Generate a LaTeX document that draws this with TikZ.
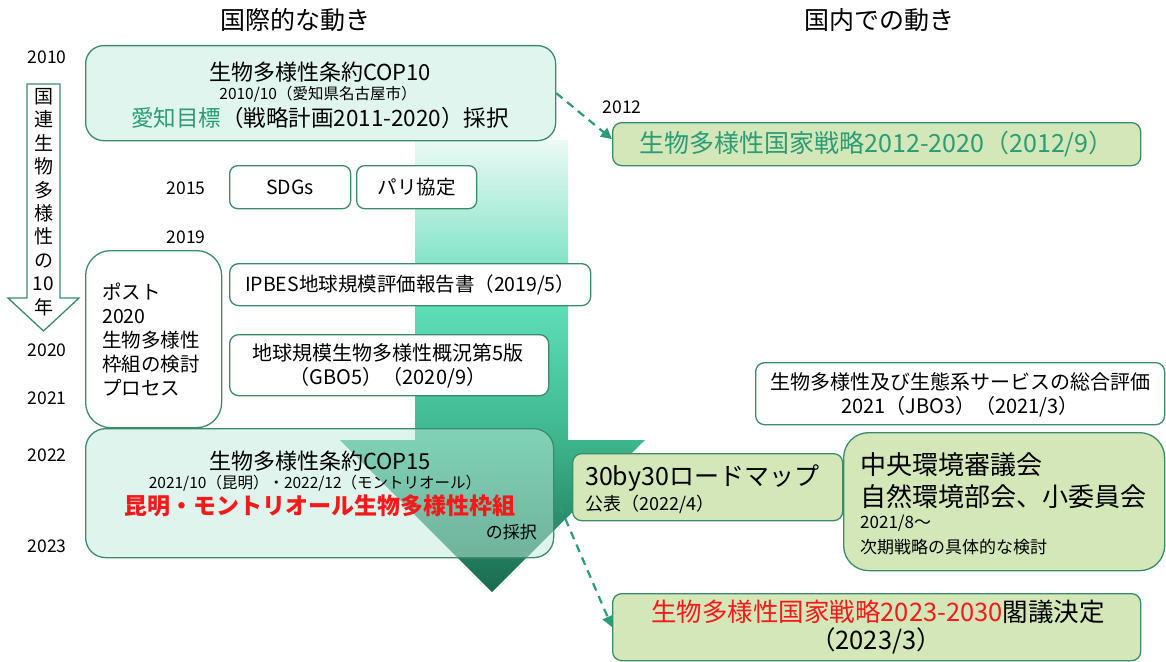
\documentclass[tikz,border=0pt]{standalone}
\usepackage{fontspec}
\setmainfont{Noto Sans CJK JP}
\usetikzlibrary{arrows.meta,calc}
\definecolor{bdr}{HTML}{3C8C6C}
\definecolor{mint}{HTML}{E0F5EE}
\definecolor{mintT}{HTML}{C1EBDD}
\definecolor{natfill}{HTML}{D4E7B9}
\definecolor{tealt}{HTML}{2A9C77}
\definecolor{redt}{HTML}{F51A1A}
\definecolor{alight}{HTML}{ECF9F5}
\definecolor{amid}{HTML}{5CDCB6}
\definecolor{amid2}{HTML}{3DB68E}
\definecolor{adark}{HTML}{1A6A4F}
\pgfdeclareverticalshading{bigarrow}{100bp}{color(0bp)=(adark); color(25bp)=(adark); color(42bp)=(amid2); color(56bp)=(amid); color(75bp)=(alight); color(100bp)=(alight)}
\newcommand\myfs[2]{\fontsize{#1}{#2}\selectfont}
\begin{document}
\begin{tikzpicture}[x=1pt,y=-1pt,
  ibox/.style={draw=bdr, line width=1.3pt, fill=white, anchor=north west, inner sep=0pt},
  nbox/.style={draw=bdr, line width=1.3pt, fill=natfill, anchor=north west, inner sep=0pt, rounded corners=9pt},
  txt/.style={inner sep=0pt},
  yr/.style={inner sep=0pt, font={\myfs{17.5}{17.5}}},
  dasharrow/.style={draw=tealt, line width=2.2pt, dash pattern=on 8pt off 6pt, -{Triangle[length=11pt,width=11pt]}},
]
\useasboundingbox (0,0) rectangle (1166,661);
\fill[white] (0,0) rectangle (1166,661);

% headers
\node[txt, font={\myfs{25}{25}}] (hint) at (295,20) {国際的な動き};
\node[txt, font={\myfs{25}{25}}] (hdom) at (879,20) {国内での動き};

% big arrow
\shade[shading=bigarrow] (415,140) -- (568,140) -- (568,440) -- (645,440) -- (492,592) -- (340,440) -- (415,440) -- cycle;

% left decade arrow
\draw[draw=bdr, line width=1.3pt, fill=white] (27,84) -- (60,84) -- (60,298) -- (79,298) -- (43.5,331) -- (8,298) -- (27,298) -- cycle;
\node[txt, align=center, font={\myfs{19}{23.4}}] (decade) at (43.5,202) {国\\連\\生\\物\\多\\様\\性\\の\\10\\年};

% year labels
\node[yr] (y2010) at (47,57) {2010};
\node[yr] (y2012) at (622,107) {2012};
\node[yr] (y2015) at (186,188) {2015};
\node[yr] (y2019) at (186,237) {2019};
\node[yr] (y2020) at (47,350) {2020};
\node[yr] (y2021) at (47,398) {2021};
\node[yr] (y2022) at (47,455) {2022};
\node[yr] (y2023) at (47,546) {2023};

% COP10
\node[ibox, fill=mint, rounded corners=18pt, minimum width=470pt, minimum height=95pt] (cop10) at (85,45) {};
\node[txt, font={\myfs{22}{22}}] (cop10a) at (320,72) {生物多様性条約COP10};
\node[txt, font={\myfs{15.5}{15.5}}] (cop10b) at (318,94) {2010/10（愛知県名古屋市）};
\node[txt, font={\myfs{22.5}{22.5}}] (cop10c) at (320,118) {{\color{tealt}愛知目標}（戦略計画2011-2020）採択};

% SDGs, Paris
\node[ibox, rounded corners=8pt, minimum width=121pt, minimum height=43pt] (sdgs) at (229,165) {};
\node[txt, font={\myfs{19.5}{19.5}}] (sdgst) at (sdgs.center) {SDGs};
\node[ibox, rounded corners=8pt, minimum width=120pt, minimum height=43pt] (paris) at (356,165) {};
\node[txt, font={\myfs{19.5}{19.5}}] (parist) at (paris.center) {パリ協定};

% post 2020
\node[ibox, rounded corners=25pt, minimum width=136pt, minimum height=177pt] (post) at (85,250) {};
\node[txt, anchor=west, align=left, font={\myfs{19.5}{24}}] (postt) at (102,340) {ポスト\\2020\\生物多様性\\枠組の検討\\プロセス};

% IPBES
\node[ibox, rounded corners=9pt, minimum width=361pt, minimum height=42pt] (ipbes) at (229,263) {};
\node[txt, font={\myfs{19.5}{19.5}}] (ipbest) at (ipbes.center) {IPBES地球規模評価報告書（2019/5）};

% GBO5
\node[ibox, rounded corners=9pt, minimum width=319pt, minimum height=61pt] (gbo) at (229,334) {};
\node[txt, font={\myfs{20}{20}}] (gboa) at (388,353) {地球規模生物多様性概況第5版};
\node[txt, font={\myfs{20}{20}}] (gbob) at (388,378) {（GBO5）（2020/9）};

% COP15 (translucent)
\node[ibox, fill=mintT, fill opacity=0.5, rounded corners=20pt, minimum width=468pt, minimum height=129pt] (cop15) at (85,428) {};
\node[txt, font={\myfs{22}{22}}] (cop15a) at (320,461) {生物多様性条約COP15};
\node[txt, font={\myfs{15.5}{15.5}}] (cop15b) at (315,483) {2021/10（昆明）・2022/12（モントリオール）};
\node[txt, font={\myfs{23}{23}\bfseries}, text=redt] (cop15c) at (320,506) {昆明・モントリオール生物多様性枠組};
\node[txt, anchor=east, font={\myfs{17}{17}}] (cop15d) at (537,532) {の採択};

% national 2012
\node[nbox, minimum width=528pt, minimum height=43pt] (ns12) at (612,122) {};
\node[txt, font={\myfs{25}{25}}, text=tealt] (ns12t) at (ns12.center) {生物多様性国家戦略2012-2020（2012/9）};

% JBO3
\node[ibox, rounded corners=9pt, minimum width=409pt, minimum height=62pt] (jbo) at (755,362) {};
\node[txt, font={\myfs{20}{20}}] (jboa) at (960,382) {生物多様性及び生態系サービスの総合評価};
\node[txt, font={\myfs{20}{20}}] (jbob) at (960,407) {2021（JBO3）（2021/3）};

% 30by30
\node[nbox, minimum width=270pt, minimum height=67pt] (r30) at (572,453) {};
\node[txt, anchor=west, font={\myfs{25}{25}}] (r30a) at (585,478) {30by30ロードマップ};
\node[txt, anchor=west, font={\myfs{18}{18}}] (r30b) at (585,504) {公表（2022/4）};

% council
\node[nbox, rounded corners=25pt, minimum width=321pt, minimum height=138pt] (council) at (843,432) {};
\node[txt, anchor=west, font={\myfs{26}{26}}] (councila) at (860,465) {中央環境審議会};
\node[txt, anchor=west, font={\myfs{26}{26}}] (councilb) at (860,497) {自然環境部会、小委員会};
\node[txt, anchor=west, font={\myfs{17}{17}}] (councilc) at (860,523) {2021/8～};
\node[txt, anchor=west, font={\myfs{17}{17}}] (councild) at (860,547) {次期戦略の具体的な検討};

% national 2023
\node[nbox, minimum width=528pt, minimum height=67pt] (ns23) at (612,593) {};
\node[txt, font={\myfs{25.5}{25.5}}] (ns23a) at (878,612) {{\color{redt}生物多様性国家戦略2023-2030}閣議決定};
\node[txt, font={\myfs{25.5}{25.5}}] (ns23b) at (876,641) {（2023/3）};

% dashed connectors
\draw[dasharrow] (cop10.east) -- ($(ns12.west)+(0,-5)$);
\draw[dasharrow] (cop15.east) -- (ns23.west);
\end{tikzpicture}
\end{document}
